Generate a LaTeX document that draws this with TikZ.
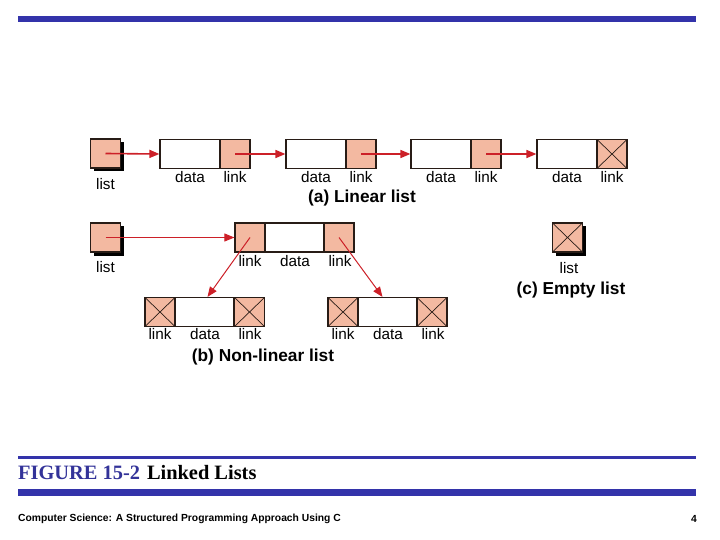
\documentclass[tikz,border=0pt]{standalone}
\usepackage{fontspec}
\setmainfont{Liberation Sans}
\newfontfamily\serifc{Liberation Serif}
\usetikzlibrary{arrows.meta,shadows}
\definecolor{salmon}{RGB}{243,185,161}
\definecolor{bord}{RGB}{40,28,22}
\definecolor{arrred}{RGB}{204,32,40}
\definecolor{barblue}{RGB}{51,51,170}
\definecolor{figblue}{RGB}{51,51,153}
\begin{document}
\begin{tikzpicture}[x=1pt,y=-1pt,
 cell/.style={draw=bord, line width=1.2pt, minimum height=29pt, inner sep=0pt},
 dcell/.style={cell, fill=white, minimum width=59pt},
 lcell/.style={cell, fill=salmon, minimum width=30pt},
 xcell/.style={lcell, path picture={\draw[bord, line width=0.7pt] (path picture bounding box.north west) -- (path picture bounding box.south east) (path picture bounding box.north east) -- (path picture bounding box.south west);}},
 shad/.style={drop shadow={shadow xshift=3.5pt, shadow yshift=-3.5pt, fill=black, opacity=1}},
 lbl/.style={font=\fontsize{15.3}{16}\selectfont, inner sep=0pt},
 captext/.style={font=\bfseries\fontsize{17.3}{18}\selectfont, inner sep=0pt},
 arr/.style={draw=arrred, line width=1.6pt, -{Triangle[length=10pt,width=8pt]}, arrred},
 thinarr/.style={arr, line width=1pt}
]
\useasboundingbox (0,0) rectangle (720,540);
% bars
\fill[barblue] (18,16) rectangle (696,22);
\fill[barblue] (18,455.5) rectangle (696,458.5);
\fill[barblue] (18,489) rectangle (696,496);

% (a) linear list
\node[lcell, shad] (la) at (105.5,153.5) {};
\node[lbl] (lat) at (105.5,184) {list};
\node[dcell, minimum width=60pt] (d1) at (190,154) {};
\node[lcell] (k1) at (235,154) {};
\node[dcell, minimum width=60pt] (d2) at (316,154) {};
\node[lcell] (k2) at (361,154) {};
\node[dcell, minimum width=60pt] (d3) at (441,154) {};
\node[lcell] (k3) at (486,154) {};
\node[dcell, minimum width=60pt] (d4) at (567,154) {};
\node[xcell] (k4) at (612,154) {};
\foreach \n/\x in {1/190,2/316,3/441,4/567} {
  \node[lbl] (d\n t) at (\x,177) {data};
}
\foreach \n/\x in {1/235,2/361,3/486,4/612} {
  \node[lbl] (k\n t) at (\x,177) {link};
}
\draw[arr] (la.center) -- (d1.west);
\draw[arr] (k1.center) -- (d2.west);
\draw[arr] (k2.center) -- (d3.west);
\draw[arr] (k3.center) -- (d4.west);
\node[captext] (capa) at (362,198) {(a) Linear list};

% (b) non-linear list
\node[lcell, shad] (lb) at (105.5,237.5) {};
\node[lbl] (lbt) at (105.5,267) {list};
\node[lcell] (tl) at (250,237.5) {};
\node[dcell] (td) at (294.5,237.5) {};
\node[lcell] (tr) at (339,237.5) {};
\node[lbl] (tlt) at (250,261) {link};
\node[lbl] (tdt) at (295,261) {data};
\node[lbl] (trt) at (340,261) {link};
\node[xcell] (al) at (160,312) {};
\node[dcell] (ad) at (204.5,312) {};
\node[xcell] (ar) at (249.5,312) {};
\node[lbl] (alt) at (160,334) {link};
\node[lbl] (adt) at (205,334) {data};
\node[lbl] (art) at (250,334) {link};
\node[xcell] (bl) at (343,312) {};
\node[dcell] (bd) at (387.5,312) {};
\node[xcell] (br) at (432,312) {};
\node[lbl] (blt) at (343,334) {link};
\node[lbl] (bdt) at (388,334) {data};
\node[lbl] (brt) at (433,334) {link};
\draw[thinarr] (lb.center) -- (tl.west);
\draw[thinarr] (tl.center) -- ([xshift=3pt]ad.north);
\draw[thinarr] (tr.center) -- ([xshift=-5pt]bd.north);
\node[captext] (capb) at (263,357) {(b) Non-linear list};

% (c) empty list
\node[xcell, shad] (lc) at (567.5,237.5) {};
\node[lbl] (lct) at (569,268) {list};
\node[captext] (capc) at (571,290) {(c) Empty list};

% caption and footer
\node[anchor=base west, inner sep=0pt] (fig) at (18,479) {\serifc\bfseries\fontsize{20.4}{22}\selectfont\textcolor{figblue}{FIGURE 15-2}\hspace{7pt}Linked Lists};
\node[anchor=west, inner sep=0pt, font=\bfseries\fontsize{10.3}{11}\selectfont] (foot) at (18,519) {Computer Science: A Structured Programming Approach Using C};
\node[anchor=east, inner sep=0pt, font=\bfseries\fontsize{10.3}{11}\selectfont] (pg) at (697,519) {4};
\end{tikzpicture}
\end{document}
